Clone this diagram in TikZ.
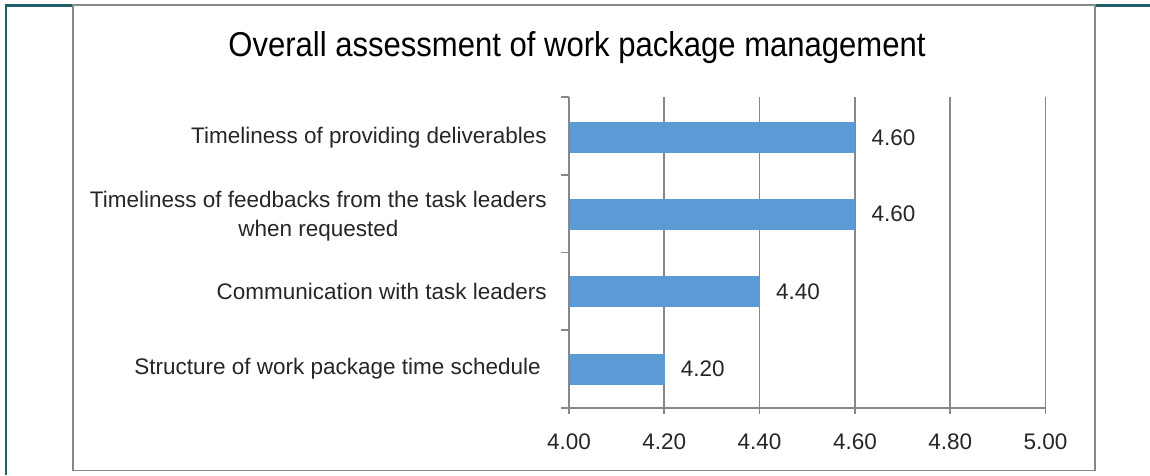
\documentclass[tikz,border=0pt]{standalone}
\usepackage{fontspec}
\setmainfont{Liberation Sans}
\newfontfamily\titlefont[FakeStretch=0.9]{Liberation Sans}
\usepackage{tikz}
\usetikzlibrary{positioning}
\definecolor{barblue}{HTML}{5B9BD5}
\definecolor{gridgray}{HTML}{878787}
\definecolor{frameteal}{HTML}{1F5D68}
\definecolor{textgray}{HTML}{262626}

\begin{document}
\begin{tikzpicture}[x=1pt,y=-1pt,
	grid/.style={draw=gridgray,line width=1.7pt},
	bar/.style={fill=barblue,inner sep=0pt,minimum height=31pt,anchor=west},
	cat/.style={anchor=east,align=center,inner sep=0pt,text=textgray,font=\fontsize{22.5}{29}\selectfont},
	val/.style={inner sep=0pt,text=textgray,font=\fontsize{22.5}{25}\selectfont},
	axislabel/.style={anchor=base,inner sep=0pt,text=textgray,font=\fontsize{22.5}{25}\selectfont}]
	\useasboundingbox (0,0) rectangle (1150,475);
	% outer frame
	\draw[frameteal,line width=2.2pt] (6,475) -- (6,5.5) -- (73,5.5);
	\draw[frameteal,line width=2.2pt] (1095,5.5) -- (1150,5.5);
	\draw[grid] (73,4.8) rectangle (1095,470.5);
	\node (title) [anchor=base,inner sep=0pt,font=\titlefont\fontsize{34.5}{40}\selectfont] at (577,56) {Overall assessment of work package management};
	% grid and ticks
	\foreach \t [count=\i] in {4.20,4.40,4.60,4.80,5.00}
	{
		\draw[grid] (569+\i*95.3,97) -- (569+\i*95.3,414);
		\node (t\i) [axislabel] at (569+\i*95.3,449) {\t};
	}
	\node (t0) [axislabel] at (569,449) {4.00};
	\foreach \y in {97,174.7,252.4,330,407.7}
		\draw[grid] (561,\y) -- (569,\y);
	% bars
	\foreach \v/\y [count=\i] in {4.60/137.5,4.60/214,4.40/291.5,4.20/369}
	{
		\pgfmathsetmacro\w{(\v-4)*476.5}
		\node (b\i) [bar,minimum width=\w pt] at (569,\y) {};
		\node (v\i) [val,right=16pt of b\i] {\v};
	}
	\draw[grid] (569,97) -- (569,414);
	\draw[grid] (561,407.7) -- (1045.5,407.7);
	% categories
	\node (c1) [cat] at (547,137.5) {Timeliness of providing deliverables};
	\node (c2) [cat] at (547,216) {Timeliness of feedbacks from the task leaders\\when requested};
	\node (c3) [cat] at (547,291.5) {Communication with task leaders};
	\node (c4) [cat] at (541,369) {Structure of work package time schedule};
\end{tikzpicture}
\end{document}
